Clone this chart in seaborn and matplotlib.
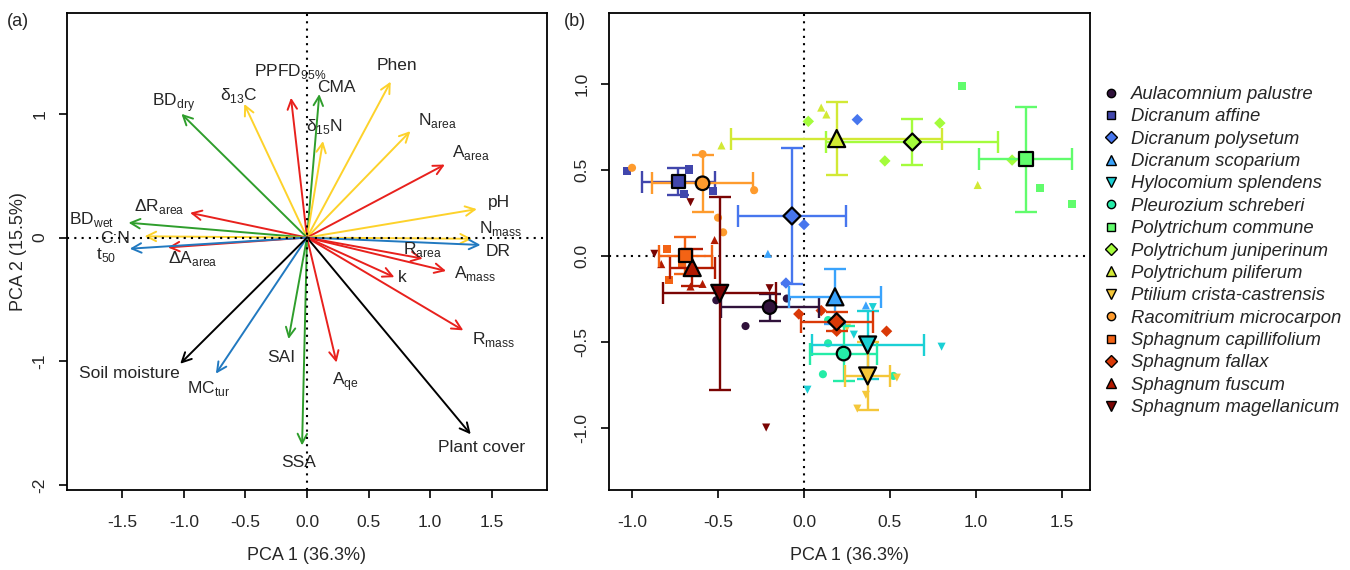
import matplotlib
import numpy as np
import pandas as pd
import seaborn as sns

matplotlib.use("Agg")
import matplotlib.pyplot as plt  # noqa: E402
from matplotlib.lines import Line2D  # noqa: E402

# ---- panel (a): PCA loadings ----
var_labels = [
    "Phen", r"N$_\mathregular{area}$", r"A$_\mathregular{area}$", "pH",
    r"N$_\mathregular{mass}$", "DR", "CMA", r"δ$_\mathregular{15}$N",
    r"PPFD$_\mathregular{95\%}$", r"δ$_\mathregular{13}$C", r"BD$_\mathregular{dry}$",
    r"ΔR$_\mathregular{area}$", r"BD$_\mathregular{wet}$", "C:N", r"ΔA$_\mathregular{area}$",
    r"t$_\mathregular{50}$", r"R$_\mathregular{area}$", r"A$_\mathregular{mass}$", "k",
    r"R$_\mathregular{mass}$", "Plant cover", r"A$_\mathregular{qe}$", "SSA", "SAI",
    r"MC$_\mathregular{tur}$", "Soil moisture",
]
var_x = [0.68, 0.84, 1.12, 1.38, 1.34, 1.41, 0.10, 0.13, -0.13, -0.51, -1.02,
         -0.95, -1.45, -1.32, -1.13, -1.44, 0.94, 1.13, 0.71, 1.27, 1.33, 0.24,
         -0.04, -0.15, -0.74, -1.03]
var_y = [1.26, 0.86, 0.59, 0.23, -0.01, -0.06, 1.16, 0.78, 1.13, 1.08, 1.00,
         0.20, 0.12, 0.01, -0.08, -0.09, -0.17, -0.27, -0.32, -0.75, -1.59, -1.01,
         -1.68, -0.82, -1.10, -1.02]
var_group = ["yellow", "yellow", "red", "yellow", "yellow", "blue", "green", "yellow",
             "red", "yellow", "green", "red", "green", "yellow", "red", "blue", "red",
             "red", "red", "red", "black", "red", "green", "green", "blue", "black"]
label_x = [0.73, 1.06, 1.33, 1.56, 1.57, 1.55, 0.24, 0.14, -0.14, -0.55, -1.08,
           -1.20, -1.75, -1.56, -0.93, -1.63, 0.94, 1.37, 0.77, 1.52, 1.42, 0.31,
           -0.07, -0.21, -0.80, -1.44]
label_y = [1.39, 0.95, 0.69, 0.28, 0.07, -0.11, 1.21, 0.90, 1.34, 1.15, 1.09,
           0.25, 0.15, -0.01, -0.17, -0.14, -0.10, -0.29, -0.32, -0.82, -1.70, -1.16,
           -1.82, -0.97, -1.22, -1.10]
group_colors = {"red": "#e8211d", "yellow": "#fdd22b", "green": "#2f9e2c",
                "blue": "#2179c0", "black": "black"}

# ---- panel (b): species scores ----
species = [
    "Aulacomnium palustre", "Dicranum affine", "Dicranum polysetum",
    "Dicranum scoparium", "Hylocomium splendens", "Pleurozium schreberi",
    "Polytrichum commune", "Polytrichum juniperinum", "Polytrichum piliferum",
    "Ptilium crista-castrensis", "Racomitrium microcarpon", "Sphagnum capillifolium",
    "Sphagnum fallax", "Sphagnum fuscum", "Sphagnum magellanicum",
]
species_markers = ["o", "s", "D", "^", "v"] * 3
mean_x = [-0.20, -0.73, -0.07, 0.18, 0.37, 0.23, 1.29, 0.63, 0.19, 0.37, -0.59,
          -0.69, 0.19, -0.65, -0.49]
mean_y = [-0.30, 0.43, 0.23, -0.24, -0.52, -0.57, 0.56, 0.66, 0.68, -0.70, 0.42,
          0.00, -0.385, -0.07, -0.22]
se_x = [0.285, 0.21, 0.315, 0.27, 0.325, 0.195, 0.27, 0.50, 0.615, 0.13, 0.295,
        0.155, 0.21, 0.13, 0.33]
se_y = [0.078, 0.08, 0.395, 0.16, 0.20, 0.16, 0.305, 0.135, 0.21, 0.20, 0.165,
        0.11, 0.055, 0.11, 0.56]

obs_species = (
    ["Aulacomnium palustre"] * 3 + ["Dicranum affine"] * 4 + ["Dicranum polysetum"] * 3
    + ["Dicranum scoparium"] * 3 + ["Hylocomium splendens"] * 4
    + ["Pleurozium schreberi"] * 4 + ["Polytrichum commune"] * 3
    + ["Polytrichum juniperinum"] * 4 + ["Polytrichum piliferum"] * 4
    + ["Ptilium crista-castrensis"] * 4 + ["Racomitrium microcarpon"] * 5
    + ["Sphagnum capillifolium"] * 3 + ["Sphagnum fallax"] * 4
    + ["Sphagnum fuscum"] * 4 + ["Sphagnum magellanicum"] * 4
)
obs_x = [-0.51, -0.34, -0.10,
         -1.03, -0.67, -0.70, -0.53,
         0.31, 0.00, -0.105,
         -0.21, 0.36, 0.18,
         0.40, 0.29, 0.80, 0.02,
         0.14, 0.11, 0.14, 0.52,
         0.92, 1.37, 1.56,
         0.025, 0.47, 0.79, 1.21,
         0.10, 0.13, -0.48, 1.01,
         0.25, 0.36, 0.31, 0.54,
         -1.00, -0.59, -0.29, -0.50, -0.47,
         -0.795, -0.785, -0.71,
         -0.03, 0.10, 0.19, 0.48,
         -0.52, -0.83, -0.59, -0.66,
         -0.66, -0.87, -0.20, -0.22]
obs_y = [-0.26, -0.41, -0.25,
         0.49, 0.50, 0.36, 0.375,
         0.79, 0.18, -0.16,
         0.01, -0.29, -0.375,
         -0.30, -0.46, -0.53, -0.78,
         -0.51, -0.69, -0.375, -0.70,
         0.985, 0.39, 0.30,
         0.78, 0.55, 0.77, 0.555,
         0.86, 0.82, 0.64, 0.41,
         -0.42, -0.81, -0.89, -0.71,
         0.51, 0.59, 0.38, 0.22, 0.135,
         0.04, -0.14, -0.055,
         -0.34, -0.32, -0.44, -0.44,
         0.09, -0.05, -0.165, -0.18,
         0.31, 0.01, -0.19, -1.00]

turbo = matplotlib.colormaps["turbo"]
palette = dict(zip(species, [turbo(v) for v in np.linspace(0, 1, len(species))]))
marker_map = dict(zip(species, species_markers))
marker_size = {"o": 95, "s": 95, "D": 75, "^": 150, "v": 150}

sns.set_style("ticks")
plt.rcParams["font.family"] = ["Liberation Sans", "DejaVu Sans"]
plt.rcParams["mathtext.fontset"] = "custom"
plt.rcParams["mathtext.rm"] = "Liberation Sans"
plt.rcParams["axes.unicode_minus"] = False

fig = plt.figure(figsize=(13.5, 5.7), dpi=100)
ax_a = fig.add_axes([0.0496, 0.1404, 0.3556, 0.8368])
ax_b = fig.add_axes([0.4511, 0.1404, 0.3563, 0.8368])

for ax in (ax_a, ax_b):
    for side in ax.spines.values():
        side.set_linewidth(1.3)
        side.set_color("black")
    ax.tick_params(axis="both", direction="out", length=6, width=1.2,
                   labelsize=12.5, pad=12, color="black")
    ax.tick_params(axis="y", labelrotation=90, pad=8)
    for lab in ax.get_yticklabels():
        lab.set_va("center")

# panel (a)
for i, name in enumerate(var_labels):
    col = group_colors[var_group[i]]
    ax_a.annotate("", xy=(var_x[i], var_y[i]), xytext=(0, 0),
                  arrowprops=dict(arrowstyle="->", color=col, lw=1.4,
                                  mutation_scale=17, shrinkA=0, shrinkB=0))
    ax_a.text(label_x[i], label_y[i], name, ha="center", va="center", fontsize=12.5)
ax_a.axhline(0, color="black", lw=1.5, ls=(0, (1, 2.5)), zorder=5)
ax_a.axvline(0, color="black", lw=1.5, ls=(0, (1, 2.5)), zorder=5)
ax_a.set_xlim(-1.95, 1.95)
ax_a.set_ylim(-2.04, 1.815)
ax_a.set_xticks([-1.5, -1.0, -0.5, 0.0, 0.5, 1.0, 1.5])
ax_a.set_yticks([-2, -1, 0, 1])
ax_a.set_xlabel("PCA 1 (36.3%)", fontsize=13, labelpad=12)
ax_a.set_ylabel("PCA 2 (15.5%)", fontsize=13, labelpad=4)

# panel (b)
ax_b.axhline(0, color="black", lw=1.5, ls=(0, (1, 2.5)), zorder=1)
ax_b.axvline(0, color="black", lw=1.5, ls=(0, (1, 2.5)), zorder=1)
obs = pd.DataFrame({"species": obs_species, "x": obs_x, "y": obs_y})
sns.scatterplot(data=obs, x="x", y="y", hue="species", style="species",
                hue_order=species, style_order=species, palette=palette,
                markers=marker_map, s=34, linewidth=0, legend=False, ax=ax_b, zorder=2)
for i, sp in enumerate(species):
    ax_b.errorbar(mean_x[i], mean_y[i], xerr=se_x[i], yerr=se_y[i], fmt="none",
                  ecolor=palette[sp], elinewidth=1.7, capsize=8, capthick=1.7, zorder=3)
means = pd.DataFrame({"species": species, "x": mean_x, "y": mean_y})
for mk, grp in means.groupby(means["species"].map(marker_map)):
    sns.scatterplot(data=grp, x="x", y="y", hue="species", style="species",
                    hue_order=species, style_order=species, palette=palette,
                    markers=marker_map, s=marker_size[mk], edgecolor="black",
                    linewidth=1.6, legend=False, ax=ax_b, zorder=4)
ax_b.set_xlim(-1.134, 1.663)
ax_b.set_ylim(-1.363, 1.41)
ax_b.set_xticks([-1.0, -0.5, 0.0, 0.5, 1.0, 1.5])
ax_b.set_yticks([-1.0, -0.5, 0.0, 0.5, 1.0])
ax_b.set_xlabel("PCA 1 (36.3%)", fontsize=13, labelpad=12)
ax_b.set_ylabel("")

handles = [Line2D([], [], ls="none", marker=marker_map[sp], markersize=7 if marker_map[sp] in "^v" else 6,
                  markerfacecolor=palette[sp], markeredgecolor="black", markeredgewidth=1.0,
                  label=sp) for sp in species]
leg = fig.legend(handles=handles, loc="upper left", bbox_to_anchor=(0.812, 0.862),
                 frameon=False, prop={"style": "italic", "size": 13.3},
                 handlelength=0.8, handletextpad=0.7, labelspacing=0.29, borderaxespad=0)

fig.text(0.0135, 0.962, "(a)", fontsize=13, ha="center", va="center")
fig.text(0.426, 0.962, "(b)", fontsize=13, ha="center", va="center")

fig.savefig("out.png", dpi=100)
plt.close(fig)
